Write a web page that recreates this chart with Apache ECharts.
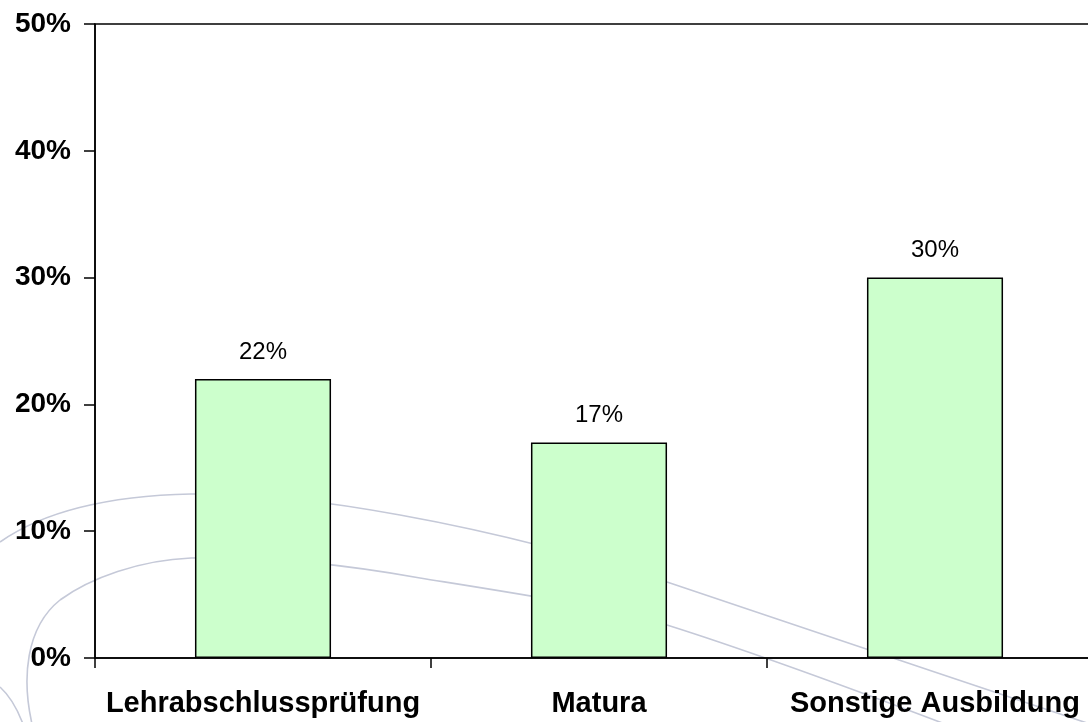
<!DOCTYPE html>
<html>
<head>
<meta charset="utf-8">
<script src="https://cdn.jsdelivr.net/npm/echarts@6/dist/echarts.min.js"></script>
<style>html,body{margin:0;padding:0;background:#fff}#c{width:1088px;height:722px}</style>
</head>
<body>
<div id="c"></div>
<script>
const categories = ['Lehrabschlussprüfung', 'Matura', 'Sonstige Ausbildung'];
const values = [22, 17, 30];
const yTicks = { min: 0, max: 50, interval: 10 };

const chart = echarts.init(document.getElementById('c'));
const curveStyle = { stroke: '#c5c9d8', lineWidth: 1.6, fill: null };
const font = 'Liberation Sans, Arial, sans-serif';

// decorative background swooshes (cubic segments: start, cp1, cp2, end)
const swooshes = [
  [[0,542],[40,514],[100,496],[191,494]],
  [[191,494],[260,493],[330,502],[400,515]],
  [[400,515],[500,533],[600,560],[667,582]],
  [[667,582],[760,612],[950,678],[1090,724]],
  [[32,724],[22,680],[25,628],[60,600]],
  [[60,600],[90,578],[140,560],[191,558]],
  [[191,558],[260,556],[330,562],[420,578]],
  [[420,578],[520,594],[600,606],[667,625]],
  [[667,625],[740,648],[850,688],[945,724]],
  [[0,687],[10,696],[17,708],[23,724]]
];
const graphicEls = swooshes.map(s => ({
  type: 'bezierCurve', z: -5, silent: true,
  shape: { x1: s[0][0], y1: s[0][1], cpx1: s[1][0], cpy1: s[1][1], cpx2: s[2][0], cpy2: s[2][1], x2: s[3][0], y2: s[3][1] },
  style: curveStyle
}));

chart.setOption({
  animation: false,
  backgroundColor: '#ffffff',
  graphic: { elements: graphicEls },
  grid: { left: 95, top: 24, width: 1008, height: 634, outerBoundsMode: 'none', containLabel: false, show: true, borderColor: '#000', borderWidth: 1.5, backgroundColor: 'transparent' },
  xAxis: {
    type: 'category',
    data: categories,
    axisLine: { lineStyle: { color: '#000', width: 1.5 } },
    axisTick: { show: true, interval: 0, length: 10, lineStyle: { color: '#000', width: 1.5 } },
    axisLabel: { interval: 0, hideOverlap: false, color: '#000', fontFamily: font, fontWeight: 'bold', fontSize: 29, margin: 31 },
    splitLine: { show: false }
  },
  yAxis: {
    type: 'value',
    min: yTicks.min, max: yTicks.max, interval: yTicks.interval,
    axisLine: { show: true, lineStyle: { color: '#000', width: 1.5 } },
    axisTick: { show: true, length: 11, lineStyle: { color: '#000', width: 1.5 } },
    axisLabel: { color: '#000', fontFamily: font, fontWeight: 'bold', fontSize: 28, margin: 24, formatter: '{value}%' },
    splitLine: { show: false }
  },
  series: [{
    type: 'bar',
    data: values,
    barWidth: '40.5%',
    itemStyle: { color: '#ccffcc', borderColor: '#000', borderWidth: 1.5 },
    label: { show: true, position: 'top', distance: 15, formatter: '{c}%', color: '#000', fontFamily: font, fontSize: 24 }
  }]
});
</script>
</body>
</html>
